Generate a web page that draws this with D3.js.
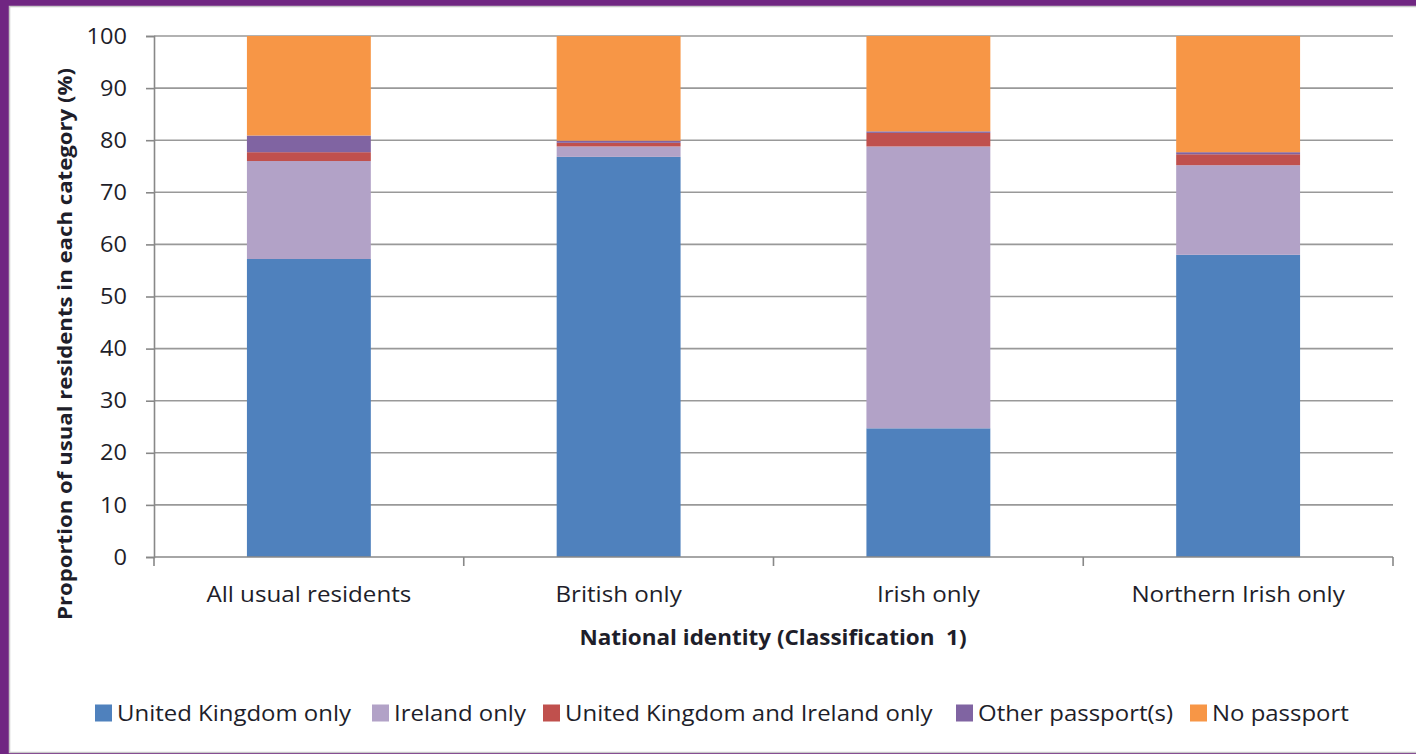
<!DOCTYPE html>
<html><head><meta charset="utf-8">
<script src="https://cdn.jsdelivr.net/npm/d3@7"></script>
<style>
html,body{margin:0;padding:0;background:#702682;}
svg{display:block;}
</style></head>
<body>
<svg id="chart" width="1416" height="754"></svg>
<script>
const categories = ["All usual residents", "British only", "Irish only", "Northern Irish only"];
const seriesNames = ["United Kingdom only", "Ireland only", "United Kingdom and Ireland only", "Other passport(s)", "No passport"];
const ukOnly      = [57.2, 76.8, 24.7, 58.0];
const irelandOnly = [18.8,  2.0, 54.1, 17.2];
const ukAndIe     = [ 1.7,  0.7,  2.6,  2.1];
const otherPass   = [ 3.2,  0.4,  0.3,  0.4];
const noPassport  = [19.1, 20.1, 18.3, 22.3];
const yTicks = [0, 10, 20, 30, 40, 50, 60, 70, 80, 90, 100];
const colors = ["#4f81bd", "#b2a2c7", "#c0504d", "#8064a2", "#f79646"];

const seriesValues = [ukOnly, irelandOnly, ukAndIe, otherPass, noPassport];
const rows = categories.map((c, i) => {
  const r = {cat: c};
  seriesNames.forEach((s, j) => r[s] = seriesValues[j][i]);
  return r;
});

const svg = d3.select("#chart");
const font = "'Open Sans', sans-serif";
const textCol = "#1e1e2a";

// panel
svg.append("rect").attr("x", 9.5).attr("y", 6.5).attr("width", 1420).attr("height", 746)
  .attr("fill", "#fff").attr("stroke", "#c8c8c8").attr("stroke-width", 1.5);

const L = 154, R = 1393, T = 36, B = 557;
const x = d3.scaleBand().domain(categories).range([L, R]).paddingInner(0.6).paddingOuter(0.3);
const xb = d3.scaleBand().domain(categories).range([L, R]);
const y = d3.scaleLinear().domain([0, 100]).range([B, T]);

// gridlines
svg.append("g").selectAll("line").data(yTicks.filter(t => t > 0)).join("line")
  .attr("x1", L).attr("x2", R).attr("y1", d => y(d)).attr("y2", d => y(d))
  .attr("stroke", "#999").attr("stroke-width", 1.6);

// bars
const stack = d3.stack().keys(seriesNames)(rows);
svg.append("g").selectAll("g").data(stack).join("g")
  .attr("fill", (d, i) => colors[i])
  .selectAll("rect").data(d => d).join("rect")
  .attr("x", d => x(d.data.cat))
  .attr("width", x.bandwidth())
  .attr("y", d => y(d[1]))
  .attr("height", d => y(d[0]) - y(d[1]));

// widen text to mimic reference rendering
function stretch(sel, k) {
  sel.each(function() {
    const w = this.getComputedTextLength();
    d3.select(this).attr("textLength", (w * k).toFixed(1)).attr("lengthAdjust", "spacingAndGlyphs");
  });
}

// y axis
const yAxis = d3.axisLeft(y).tickValues(yTicks).tickSize(8).tickPadding(19);
const ga = svg.append("g").attr("transform", `translate(${L},0)`).call(yAxis);
ga.select(".domain").attr("stroke", "#888").attr("stroke-width", 1.6);
ga.selectAll(".tick line").attr("stroke", "#888").attr("stroke-width", 1.6);
ga.selectAll(".tick text").attr("font-family", font).attr("font-size", 21).attr("fill", textCol)
  .attr("dy", "0.34em");
stretch(ga.selectAll(".tick text"), 1.12);

// x axis
const gx = svg.append("g").attr("transform", `translate(0,${B})`);
gx.append("line").attr("x1", L).attr("x2", R).attr("y1", 0).attr("y2", 0)
  .attr("stroke", "#888").attr("stroke-width", 1.6);
const bounds = categories.map(c => xb(c)).concat([R]);
gx.selectAll("line.tk").data(bounds).join("line").attr("class", "tk")
  .attr("x1", d => d).attr("x2", d => d).attr("y1", 0).attr("y2", 9)
  .attr("stroke", "#888").attr("stroke-width", 1.6);
const cl = gx.selectAll("text").data(categories).join("text")
  .attr("x", d => xb(d) + xb.bandwidth() / 2).attr("y", 45)
  .attr("text-anchor", "middle").attr("font-family", font).attr("font-size", 21)
  .attr("fill", textCol).text(d => d);
stretch(cl, 1.15);

// axis titles
const xt = svg.append("text").attr("x", 773).attr("y", 645).attr("text-anchor", "middle")
  .attr("font-family", font).attr("font-size", 21).attr("font-weight", "bold")
  .attr("fill", textCol).attr("xml:space", "preserve").text("National identity (Classification  1)");
stretch(xt, 1.07);
const yt = svg.append("text").attr("transform", "translate(72,344) rotate(-90)").attr("text-anchor", "middle")
  .attr("font-family", font).attr("font-size", 19).attr("font-weight", "bold")
  .attr("fill", textCol).text("Proportion of usual residents in each category (%)");
yt.attr("textLength", 552).attr("lengthAdjust", "spacingAndGlyphs");

// legend
const legendX = [95, 372, 543, 956, 1190];
const lg = svg.append("g").selectAll("g").data(seriesNames).join("g")
  .attr("transform", (d, i) => `translate(${legendX[i]},713)`);
lg.append("rect").attr("x", 0).attr("y", -8.5).attr("width", 17).attr("height", 17)
  .attr("fill", (d, i) => colors[i]);
const lt = lg.append("text").attr("x", 22).attr("y", 7.5).attr("font-family", font).attr("font-size", 21)
  .attr("fill", textCol).text(d => d);
stretch(lt, 1.14);
</script>
</body></html>
